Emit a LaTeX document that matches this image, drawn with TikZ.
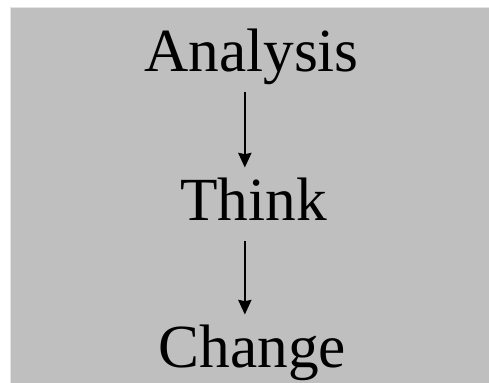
\documentclass[tikz,border=0pt]{standalone}
\usepackage{fontspec}
\setmainfont{Liberation Serif}
\usetikzlibrary{arrows.meta}

\tikzset{every picture/.style={line width=0.75pt}}
\tikzset{
	word/.style={anchor=base, inner sep=6pt, font=\fontsize{46}{50}\selectfont, text height=33pt, text depth=9.5pt},
	step arrow/.style={-{Stealth[length=11pt,width=10pt,inset=1pt]}, line width=1.2pt}
}

\begin{document}
\begin{tikzpicture}[x=0.75pt,y=0.75pt,yscale=-1,xscale=1]
		\useasboundingbox (0,0) rectangle (489,382);
		
		%Shape: Rectangle [id:background] 
		\draw [draw={rgb, 255:red, 228; green, 228; blue, 228 }, fill={rgb, 255:red, 191; green, 191; blue, 191 }, line width=0.75pt] (10.5,7) -- (492,7) -- (492,386) -- (10.5,386) -- cycle ;
		
		\node [word] (analysis) at (251.5,71) {Analysis};
		\node [word] (think) at (253.5,220) {Think};
		\node [word] (change) at (252.5,367) {Change};
		
		\draw [step arrow] ([xshift=-5pt]analysis.south) -- ([xshift=-5pt]analysis.south |- think.north) ;
		\draw [step arrow] ([xshift=-6.5pt]think.south) -- ([xshift=-6.5pt]think.south |- change.north) ;
		
\end{tikzpicture}
\end{document}
